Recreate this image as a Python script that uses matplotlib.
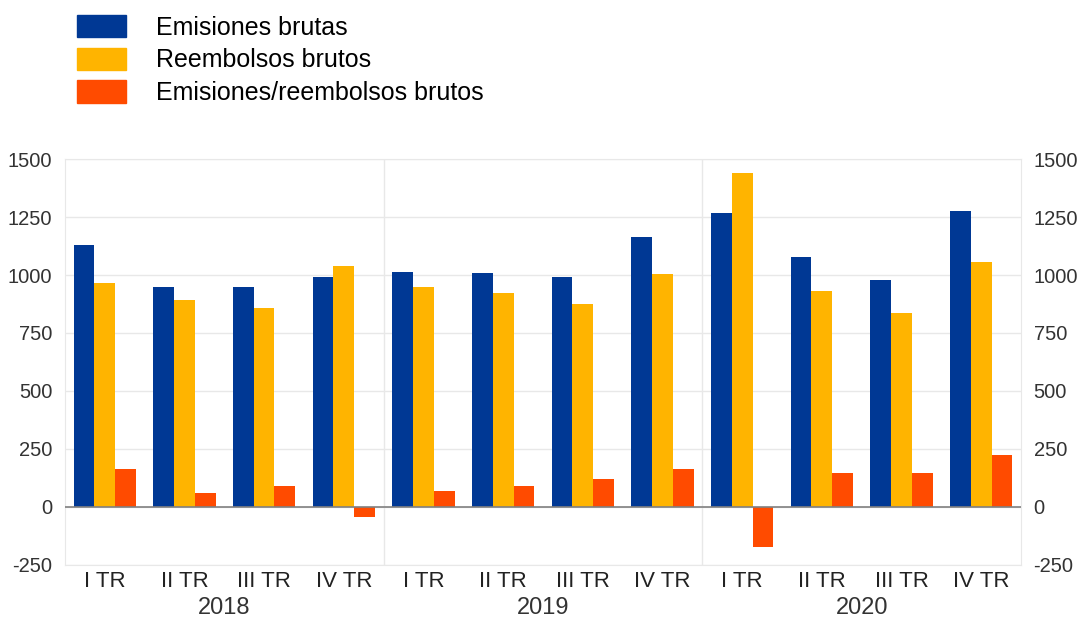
import numpy as np
import matplotlib
matplotlib.use("Agg")
import matplotlib.pyplot as plt
from matplotlib.patches import Patch

plt.rcParams['font.family'] = ['Liberation Sans', 'DejaVu Sans']

# data
years = ["2018", "2019", "2020"]
quarters = ["I TR", "II TR", "III TR", "IV TR"]
emisiones = [1129, 947, 950, 993, 1011, 1009, 993, 1165, 1269, 1076, 978, 1277]
reembolsos = [967, 892, 856, 1039, 947, 921, 875, 1003, 1438, 932, 835, 1057]
netas = [164, 59, 92, -45, 69, 90, 119, 162, -171, 145, 145, 224]
series_names = ["Emisiones brutas", "Reembolsos brutos", "Emisiones/reembolsos brutos"]
colors = ["#003894", "#ffb400", "#ff4b00"]
yticks = [-250, 0, 250, 500, 750, 1000, 1250, 1500]

fig = plt.figure(figsize=(10.81, 6.18), dpi=100)
ax = fig.add_axes([0.0601, 0.0858, 0.8844, 0.6569])

x = np.arange(len(emisiones))
w = 0.26
for k, vals in enumerate([emisiones, reembolsos, netas]):
    ax.bar(x + (k - 1) * w, vals, width=w, color=colors[k], zorder=3)

ax.set_xlim(-0.5, len(x) - 0.5)
ax.set_ylim(-250, 1500)
ax.set_yticks(yticks)
ax.set_yticklabels([str(t) for t in yticks])
ax.grid(axis='y', color='#e8e8e8', lw=1, zorder=0)
ax.axhline(0, color='#808080', lw=1.2, zorder=4)
for b in range(1, len(years)):
    ax.axvline(b * 4 - 0.5, color='#e8e8e8', lw=1, zorder=0)
for s in ax.spines.values():
    s.set_color('#e8e8e8')

ax.tick_params(axis='y', length=0, labelsize=14.5, labelcolor='#333333', pad=9,
               labelleft=True, labelright=True)
ax.set_xticks([])

trans = ax.get_xaxis_transform()
for i in x:
    ax.text(i, -0.04, quarters[i % 4], transform=trans, ha='center', va='center',
            fontsize=16, color='#222222')
for j, yr in enumerate(years):
    ax.text(j * 4 + 1.5, -0.106, yr, transform=trans, ha='center', va='center',
            fontsize=17, color='#333333')

handles = [Patch(color=c) for c in colors]
fig.legend(handles, series_names, loc='upper left', bbox_to_anchor=(0.062, 0.992),
           frameon=False, fontsize=18, handlelength=1.95, handleheight=1.0,
           labelspacing=0.32, handletextpad=1.2, borderaxespad=0)

fig.savefig("out.png", dpi=100)
